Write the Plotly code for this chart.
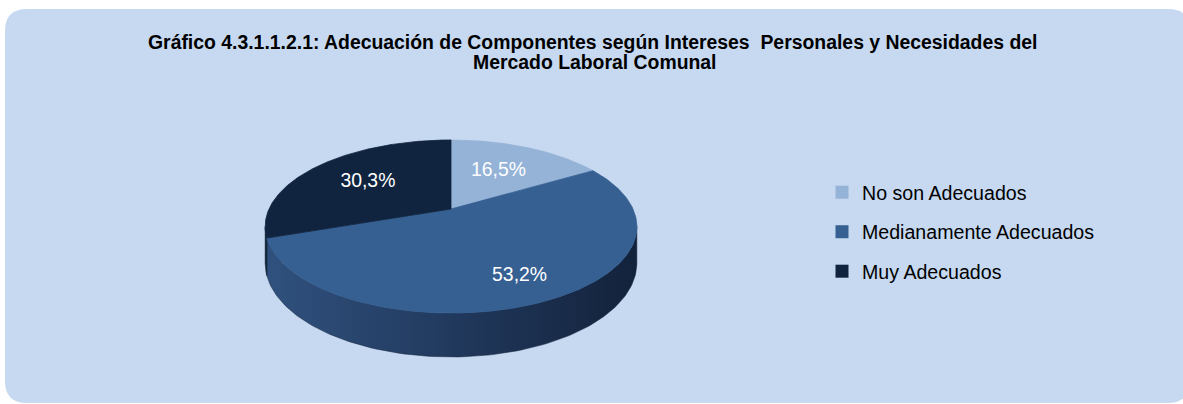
import numpy as np
import plotly.graph_objects as go

# ---------------- data ----------------
categories = ["No son Adecuados", "Medianamente Adecuados", "Muy Adecuados"]
values = [16.5, 53.2, 30.3]
value_labels = ["16,5%", "53,2%", "30,3%"]
title_line1 = "<b>Gráfico 4.3.1.1.2.1: Adecuación de Componentes según Intereses  Personales y Necesidades del</b>"
title_line2 = "<b>Mercado Laboral Comunal</b>"

# ---------------- style ----------------
top_colors = ["#95B3D7", "#366092", "#10243F"]
side_scales = [
    [[0, "#6f8db4"], [1, "#4d6a90"]],
    [[0, "#30517e"], [0.5, "#21395d"], [1, "#13223b"]],
    [[0, "#0d1d33"], [1, "#0b1a2e"]],
]
label_radius = [0.58, 0.77, 0.6]

W, H = 1183, 404
CX, CY = 451, 209      # apex of the pie on screen
RX, RY = 182, 83       # radii of the pie
K = 0.2026             # perspective factor
DEPTH = 35             # thickness of the pie
FONT = "Liberation Sans, Arial, sans-serif"


def project(t, drop=0.0):
    u, v = np.cos(t), np.sin(t)
    w = 1 + K * v
    return CX + RX * u / w, CY - RY * v / w + drop / w


def project_uv(u, v):
    w = 1 + K * v
    return CX + RX * u / w, CY - RY * v / w


total = float(sum(values))
starts, ends = [], []
acc = 0.0
for v in values:
    a0 = np.pi / 2 - 2 * np.pi * acc / total
    acc += v
    a1 = np.pi / 2 - 2 * np.pi * acc / total
    starts.append(a0)
    ends.append(a1)

fig = go.Figure()

# side faces (front, visible part)
t_right = -np.arcsin(K)
t_left = -np.pi + np.arcsin(K)
for i in range(len(values)):
    hi = min(starts[i], t_right)
    lo = max(ends[i], t_left)
    if hi <= lo:
        continue
    ts = np.linspace(hi, lo, 120)
    xt, yt = project(ts)
    xb, yb = project(ts[::-1], DEPTH)
    xs = np.concatenate([xt, xb, xt[:1]])
    ys = np.concatenate([yt, yb, yt[:1]])
    fig.add_trace(go.Scatter(
        x=xs, y=ys, mode="lines", fill="toself",
        line=dict(width=0.5, color=side_scales[i][-1][1]),
        fillgradient=dict(type="horizontal", colorscale=side_scales[i]),
        hoverinfo="skip", showlegend=False))

# top faces
for i in range(len(values)):
    ts = np.linspace(starts[i], ends[i], 200)
    xa, ya = project(ts)
    xs = np.concatenate([[CX], xa, [CX]])
    ys = np.concatenate([[CY], ya, [CY]])
    fig.add_trace(go.Scatter(
        x=xs, y=ys, mode="lines", fill="toself",
        fillcolor=top_colors[i], line=dict(width=0.8, color=top_colors[i]),
        name=categories[i], hoverinfo="name", showlegend=False))

# value labels
lx, ly = [], []
for i in range(len(values)):
    mid = (starts[i] + ends[i]) / 2
    x, y = project_uv(label_radius[i] * np.cos(mid), label_radius[i] * np.sin(mid))
    lx.append(x)
    ly.append(y)
fig.add_trace(go.Scatter(
    x=lx, y=ly, mode="text", text=value_labels,
    textfont=dict(family=FONT, size=19.4, color="white"),
    hoverinfo="skip", showlegend=False))

# legend entries
for i, c in enumerate(categories):
    fig.add_trace(go.Scatter(
        x=[None], y=[None], mode="markers", name=c, legendgroup=c,
        marker=dict(symbol="square", size=13, color=top_colors[i]),
        showlegend=True))

# rounded background panel
x0, y0, x1, y1, r = 5, 9, 1190, 403, 22
panel = (f"M {x0 + r},{y0} H {x1 - r} Q {x1},{y0} {x1},{y0 + r} V {y1 - r} "
         f"Q {x1},{y1} {x1 - r},{y1} H {x0 + r} Q {x0},{y1} {x0},{y1 - r} "
         f"V {y0 + r} Q {x0},{y0} {x0 + r},{y0} Z")

title_font = dict(family=FONT, size=19.4, color="black")
fig.update_layout(
    width=W, height=H, autosize=False,
    margin=dict(l=0, r=0, t=0, b=0),
    paper_bgcolor="white", plot_bgcolor="white",
    xaxis=dict(range=[0, W], visible=False, fixedrange=True),
    yaxis=dict(range=[H, 0], visible=False, fixedrange=True),
    shapes=[dict(type="path", path=panel, xref="x", yref="y",
                 fillcolor="#C6D9F1", line=dict(width=0), layer="below")],
    annotations=[
        dict(text=title_line1, x=592, y=42, xref="x", yref="y",
             xanchor="center", yanchor="middle", showarrow=False, font=title_font),
        dict(text=title_line2, x=595, y=62, xref="x", yref="y",
             xanchor="center", yanchor="middle", showarrow=False, font=title_font),
    ],
    legend=dict(x=822 / W, y=1 - 232 / H, xanchor="left", yanchor="middle",
                bgcolor="rgba(0,0,0,0)", tracegroupgap=11,
                font=dict(family=FONT, size=19.6, color="black")),
    showlegend=True,
)

fig.write_html(
    "out.html",
    config={"displayModeBar": False},
    post_script="document.body.style.margin='0';document.body.style.overflow='hidden';",
)
